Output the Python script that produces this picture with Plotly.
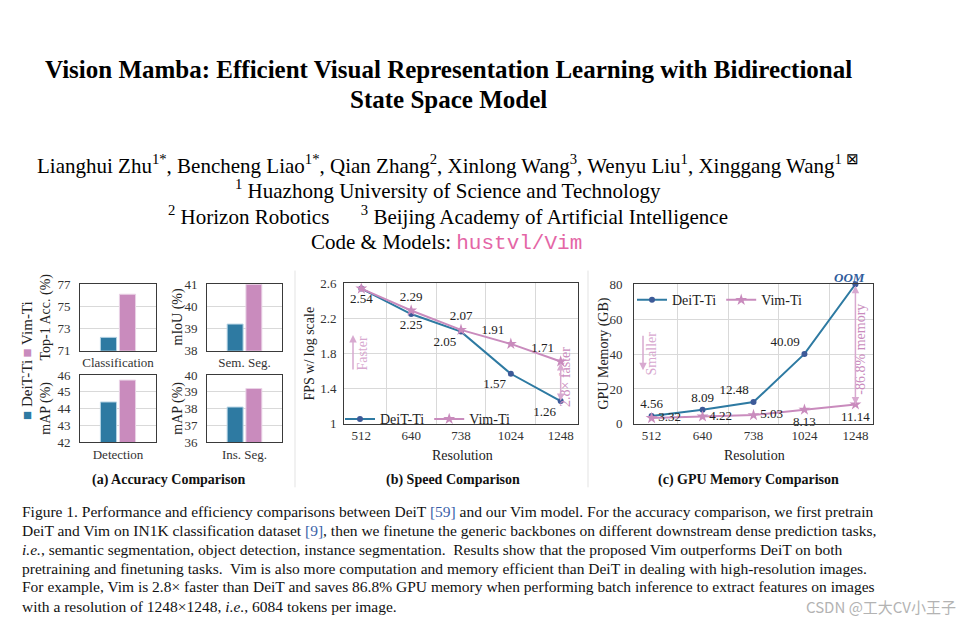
import plotly.graph_objects as go

W, H = 968, 632
def px(x): return x / W
def py(y): return 1 - y / H

SERIF = "Liberation Serif, Times New Roman, serif"
BLUE = "#2e7aa2"
PINK = "#c98bbd"
LIGHTPINK = "#d8a9d0"
GRID = "#d9d9d9"
FRAME = "#3a3a3a"

# ---------------- data ----------------
tasks = ["Classification", "Sem. Seg.", "Detection", "Ins. Seg."]
deit_acc = [72.2, 39.2, 44.4, 38.1]
vim_acc = [76.1, 41.0, 45.7, 39.2]
acc_ranges = [[71, 77], [38, 41], [42, 46], [36, 40]]
acc_ticks = [[71, 73, 75, 77], [38, 39, 40, 41], [42, 43, 44, 45, 46], [36, 37, 38, 39, 40]]
acc_titles = ["Top-1 Acc. (%)", "mIoU (%)", "mAP (%)", "mAP (%)"]

resolutions = ["512", "640", "738", "1024", "1248"]
deit_fps = [2.54, 2.25, 2.05, 1.57, 1.26]
vim_fps = [2.54, 2.29, 2.07, 1.91, 1.71]
fps_ticks = [1, 1.4, 1.8, 2.2, 2.6]
deit_mem = [4.56, 8.09, 12.48, 40.09, 80]   # last point: OOM (drawn at axis top)
vim_mem = [3.32, 4.22, 5.03, 8.13, 11.14]
mem_ticks = [0, 20, 40, 60, 80]

deit_fps_text = [f"{v:.2f}" for v in deit_fps]
vim_fps_text = [""] + [f"{v:.2f}" for v in vim_fps[1:]]
deit_mem_text = [f"{v:.2f}" for v in deit_mem[:-1]] + [""]
vim_mem_text = [f"{v:.2f}" for v in vim_mem]

fig = go.Figure()

# ---------------- panel (a): bars ----------------
a_dom_x = [[80, 156], [207, 282], [80, 156], [207, 282]]
a_dom_y = [[284, 352], [284, 352], [377, 446], [377, 446]]
for i, t in enumerate(tasks):
    n = "" if i == 0 else str(i + 1)
    fig.add_trace(go.Bar(x=[t], y=[deit_acc[i]], name="DeiT-Ti", xaxis="x" + n, yaxis="y" + n,
                         marker=dict(color=BLUE, line=dict(color="#b5d3e4", width=1)),
                         showlegend=False, offsetgroup="d"))
    fig.add_trace(go.Bar(x=[t], y=[vim_acc[i]], name="Vim-Ti", xaxis="x" + n, yaxis="y" + n,
                         marker=dict(color=PINK, line=dict(color="#ead3e6", width=1)),
                         showlegend=False, offsetgroup="v"))

# ---------------- panel (b): speed ----------------
fig.add_trace(go.Scatter(x=resolutions, y=deit_fps, name="DeiT-Ti", mode="lines+markers+text",
                         xaxis="x5", yaxis="y5", legend="legend",
                         line=dict(color=BLUE, width=2), marker=dict(color="#3d5a98", size=6),
                         text=deit_fps_text,
                         textposition=["bottom center", "bottom center", "bottom left", "bottom left", "bottom left"],
                         textfont=dict(family=SERIF, size=13, color="#222")))
fig.add_trace(go.Scatter(x=resolutions, y=vim_fps, name="Vim-Ti", mode="lines+markers+text",
                         xaxis="x5", yaxis="y5", legend="legend",
                         line=dict(color=PINK, width=2), marker=dict(color=PINK, size=9, symbol="star"),
                         text=vim_fps_text,
                         textposition=["top center", "top center", "top center", "top left", "top left"],
                         textfont=dict(family=SERIF, size=13, color="#222")))

# ---------------- panel (c): memory ----------------
fig.add_trace(go.Scatter(x=resolutions, y=deit_mem, name="DeiT-Ti", mode="lines+markers+text",
                         xaxis="x6", yaxis="y6", legend="legend2", cliponaxis=False,
                         line=dict(color=BLUE, width=2), marker=dict(color="#3d5a98", size=6),
                         text=deit_mem_text,
                         textposition=["top center", "top center", "top left", "top left", "top left"],
                         textfont=dict(family=SERIF, size=13, color="#222")))
fig.add_trace(go.Scatter(x=resolutions, y=vim_mem, name="Vim-Ti", mode="lines+markers+text",
                         xaxis="x6", yaxis="y6", legend="legend2", cliponaxis=False,
                         line=dict(color=PINK, width=2), marker=dict(color=PINK, size=9, symbol="star"),
                         text=vim_mem_text,
                         textposition=["middle right", "middle right", "middle right", "bottom center", "bottom center"],
                         textfont=dict(family=SERIF, size=13, color="#222")))

tickfont = dict(family=SERIF, size=13, color="#333")
layout = dict(
    width=W, height=H, margin=dict(l=0, r=0, t=0, b=0),
    paper_bgcolor="white", plot_bgcolor="white",
    barmode="group", bargap=0.5, bargroupgap=0.15,
    font=dict(family=SERIF, color="#222"),
)

for i in range(4):
    n = "" if i == 0 else str(i + 1)
    layout["xaxis" + n] = dict(domain=[px(a_dom_x[i][0]), px(a_dom_x[i][1])], anchor="y" + n,
                               type="category", showgrid=False, showline=True, mirror=True,
                               linecolor=FRAME, linewidth=1, ticks="", tickfont=tickfont, fixedrange=True)
    layout["yaxis" + n] = dict(domain=[py(a_dom_y[i][1]), py(a_dom_y[i][0])], anchor="x" + n,
                               range=acc_ranges[i], tickmode="array", tickvals=acc_ticks[i],
                               showgrid=True, gridcolor=GRID, showline=True, mirror=True,
                               linecolor=FRAME, linewidth=1, ticks="", tickfont=tickfont,
                               ticklabelstandoff=6, zeroline=False)

common_x = dict(type="category", showgrid=True, gridcolor=GRID, tickson="boundaries",
                showline=True, mirror=True, linecolor=FRAME, linewidth=1, ticks="",
                tickfont=tickfont)
layout["xaxis5"] = dict(common_x, domain=[px(344), px(578)], anchor="y5")
layout["yaxis5"] = dict(domain=[py(427), py(283)], anchor="x5", range=[1, 2.6], tickmode="array",
                        tickvals=fps_ticks, showgrid=True, gridcolor=GRID, showline=True, mirror=True,
                        linecolor=FRAME, linewidth=1, ticks="", tickfont=tickfont, zeroline=False,
                        ticklabelstandoff=4)
layout["xaxis6"] = dict(common_x, domain=[px(634), px(873)], anchor="y6")
layout["yaxis6"] = dict(domain=[py(427), py(284)], anchor="x6", range=[0, 80], tickmode="array",
                        tickvals=mem_ticks, showgrid=True, gridcolor=GRID, showline=True, mirror=True,
                        linecolor=FRAME, linewidth=1, ticks="", tickfont=tickfont, zeroline=False,
                        ticklabelstandoff=8)

legfont = dict(family=SERIF, size=14, color="#222")
layout["legend"] = dict(x=px(340), y=py(406), xanchor="left", yanchor="top", orientation="h",
                        bgcolor="rgba(0,0,0,0)", font=legfont, itemwidth=30, tracegroupgap=0)
layout["legend2"] = dict(x=px(632), y=py(284), xanchor="left", yanchor="top", orientation="h",
                         bgcolor="rgba(0,0,0,0)", font=legfont, itemwidth=30, tracegroupgap=0)

fig.update_layout(**layout)

ann = []
def text(x, y, s, size=14, color="#111", angle=0, xanchor="center", yanchor="middle", family=SERIF):
    ann.append(dict(x=px(x), y=py(y), xref="paper", yref="paper", text=s, showarrow=False,
                    font=dict(family=family, size=size, color=color), textangle=angle,
                    xanchor=xanchor, yanchor=yanchor))

# header
text(448, 64, "<b>Vision Mamba: Efficient Visual Representation Learning with Bidirectional</b>", size=25, color="#000")
text(448, 95, "<b>State Space Model</b>", size=25, color="#000")
text(448, 161, "Lianghui Zhu<sup>1*</sup>, Bencheng Liao<sup>1*</sup>, Qian Zhang<sup>2</sup>, Xinlong Wang<sup>3</sup>, "
     "Wenyu Liu<sup>1</sup>, Xinggang Wang<sup>1 ⊠</sup>", size=21, color="#000")
text(448, 187, "<sup>1</sup> Huazhong University of Science and Technology", size=21, color="#000")
text(448, 214, "<sup>2</sup> Horizon Robotics      <sup>3</sup> Beijing Academy of Artificial Intelligence", size=21, color="#000")
text(446, 241, "Code &amp; Models: <span style='color:#e466a6;font-family:Liberation Mono'>hustvl/Vim</span>",
     size=21, color="#000")

# panel (a) texts
for i in range(4):
    xc = 46 if a_dom_x[i][0] < 100 else 178
    yc = (a_dom_y[i][0] + a_dom_y[i][1]) / 2
    text(xc, yc, acc_titles[i], size=14, color="#222", angle=-90)
text(27, 361, f"<span style='color:{PINK}'>■</span> Vim-Ti", size=15, color="#222", angle=-90, yanchor="bottom")
text(27, 425, f"<span style='color:{BLUE}'>■</span> DeiT-Ti", size=15, color="#222", angle=-90, yanchor="bottom")
text(168, 484, "<b>(a) Accuracy Comparison</b>", size=14, color="#111")

# panel (b) texts
text(310, 355, "FPS w/ log scale", size=14, color="#222", angle=-90)
text(462, 459, "Resolution", size=14, color="#222")
text(363, 355, "Faster", size=14, color=LIGHTPINK, angle=-90)
text(565, 379, "2.8× faster", size=14, color=PINK, angle=-90)
text(453, 484, "<b>(b) Speed Comparison</b>", size=14, color="#111")

# panel (c) texts
text(604, 355, "GPU Memory (GB)", size=14, color="#222", angle=-90)
text(754, 459, "Resolution", size=14, color="#222")
text(652, 355, "Smaller", size=14, color=LIGHTPINK, angle=-90)
text(861, 351, "-86.8% memory", size=14, color=PINK, angle=-90)
text(748, 484, "<b>(c) GPU Memory Comparison</b>", size=14, color="#111")

# OOM marker label, anchored to the last DeiT data point
ann.append(dict(x=4, y=deit_mem[4], xref="x6", yref="y6", text="<b><i>OOM</i></b>", showarrow=False,
                font=dict(family=SERIF, size=13, color="#2f5c9c"), xshift=-6, yshift=7))

# arrows
ann.append(dict(x=px(353), y=py(336), xref="paper", yref="paper", ax=0, ay=36, text="",
                showarrow=True, arrowhead=2, arrowsize=1, arrowwidth=1.5, arrowcolor=LIGHTPINK))
ann.append(dict(x=px(643), y=py(372), xref="paper", yref="paper", ax=0, ay=-36, text="",
                showarrow=True, arrowhead=2, arrowsize=1, arrowwidth=1.5, arrowcolor=LIGHTPINK))
ann.append(dict(x=4, y=deit_fps[4], xref="x5", yref="y5", ax=4, ay=vim_fps[4], axref="x5", ayref="y5",
                text="", showarrow=True, arrowhead=2, startarrowhead=2, arrowside="end+start",
                arrowsize=1, arrowwidth=1.5, arrowcolor=LIGHTPINK))
ann.append(dict(x=4, y=vim_mem[4], xref="x6", yref="y6", ax=4, ay=deit_mem[4], axref="x6", ayref="y6",
                text="", showarrow=True, arrowhead=2, startarrowhead=2, arrowside="end+start",
                arrowsize=1, arrowwidth=1.5, arrowcolor=LIGHTPINK))

# caption
cap = [
    "Figure 1. Performance and efficiency comparisons between DeiT <span style='color:#3a5fa8'>[59]</span> and our Vim model. For the accuracy comparison, we first pretrain",
    "DeiT and Vim on IN1K classification dataset <span style='color:#3a5fa8'>[9]</span>, then we finetune the generic backbones on different downstream dense prediction tasks,",
    "<i>i.e.</i>, semantic segmentation, object detection, instance segmentation.  Results show that the proposed Vim outperforms DeiT on both",
    "pretraining and finetuning tasks.  Vim is also more computation and memory efficient than DeiT in dealing with high-resolution images.",
    "For example, Vim is 2.8× faster than DeiT and saves 86.8% GPU memory when performing batch inference to extract features on images",
    "with a resolution of 1248×1248, <i>i.e.</i>, 6084 tokens per image.",
]
cap_y = [517, 536, 556, 575, 594, 614]
for s, yy in zip(cap, cap_y):
    text(20, yy, s, size=15.5, color="#111", xanchor="left")

text(958, 614, "CSDN @工大CV小王子", size=15, color="#b3b3b3", xanchor="right",
     family="Noto Sans CJK SC, Noto Sans, sans-serif")

fig.update_layout(annotations=ann)

# panel separators
fig.update_layout(shapes=[
    dict(type="line", xref="paper", yref="paper", x0=px(295), x1=px(295), y0=py(270), y1=py(492),
         line=dict(color="#e3e3e3", width=1)),
    dict(type="line", xref="paper", yref="paper", x0=px(588), x1=px(588), y0=py(270), y1=py(492),
         line=dict(color="#e3e3e3", width=1)),
])

fig.write_html("out.html")
